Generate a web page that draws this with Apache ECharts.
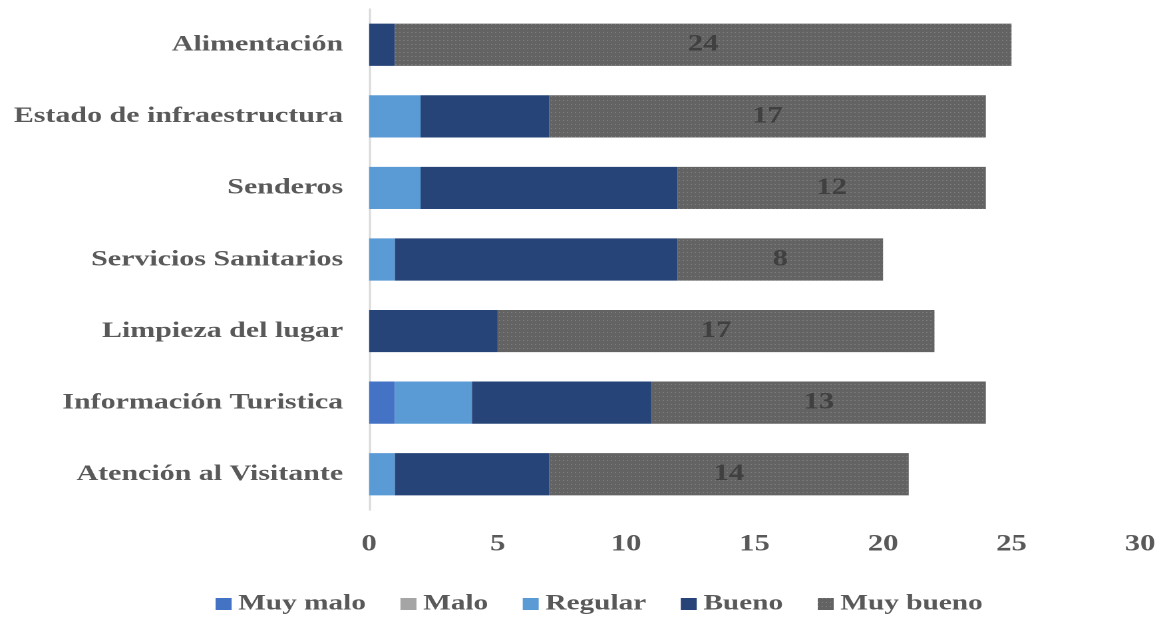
<!DOCTYPE html>
<html><head><meta charset="utf-8">
<script src="https://cdn.jsdelivr.net/npm/echarts@6/dist/echarts.min.js"></script>
<style>
html,body{margin:0;padding:0;background:#fff;overflow:hidden;width:1163px;height:617px}
#c{width:874px;height:617px;transform:scaleX(1.3307);transform-origin:0 0}
</style>
</head><body><div id="c"></div>
<script>
const categories = ["Alimentación","Estado de infraestructura","Senderos","Servicios Sanitarios","Limpieza del lugar","Información Turistica","Atención al Visitante"];
const muyMalo  = [0,0,0,0,0,1,0];
const malo     = [0,0,0,0,0,0,0];
const regular  = [0,2,2,1,0,3,1];
const bueno    = [1,5,10,11,5,7,6];
const muyBueno = [24,17,12,8,17,13,14];
const xTicks = [0,5,10,15,20,25,30];

const font = '"Liberation Serif","Times New Roman",serif';
const txt = '#595959';
function ser(name, data, color, extra) {
  return Object.assign({
    name, type:'bar', stack:'t', data, barCategoryGap:'41%',
    itemStyle:{color}, emphasis:{disabled:true}
  }, extra||{});
}
const chart = echarts.init(document.getElementById('c'), null, {devicePixelRatio:2});
chart.setOption({
  animation:false,
  grid:{left:277.4, right:17.3, top:9, bottom:107},
  xAxis:{type:'value', min:xTicks[0], max:xTicks[xTicks.length-1], interval:5,
    axisLine:{show:false}, axisTick:{show:false}, splitLine:{show:false},
    axisLabel:{color:txt, fontFamily:font, fontWeight:'bold', fontSize:23, margin:23}},
  yAxis:{type:'category', data:categories, inverse:true,
    axisLine:{show:true, lineStyle:{color:'#d9d9d9', width:1.5}}, axisTick:{show:false},
    axisLabel:{color:txt, fontFamily:font, fontWeight:'bold', fontSize:22.5, margin:19.5}},
  legend:{top:588, left:157, itemWidth:12, itemHeight:12, itemGap:26, icon:'rect',
    textStyle:{color:txt, fontFamily:font, fontWeight:'bold', fontSize:22}},
  series:[
    ser('Muy malo', muyMalo, '#4472C4'),
    ser('Malo', malo, '#A5A5A5'),
    ser('Regular', regular, '#5B9BD5'),
    ser('Bueno', bueno, '#264478'),
    ser('Muy bueno', muyBueno, '#636363', {
      itemStyle:{color:'#636363', decal:{symbol:'rect', symbolSize:1, dashArrayX:[1,2], dashArrayY:[1,3], color:'rgba(150,150,150,0.5)'}},
      label:{show:true, position:'inside', color:'#404040', fontFamily:font, fontWeight:'bold', fontSize:23}
    })
  ]
});
</script></body></html>
